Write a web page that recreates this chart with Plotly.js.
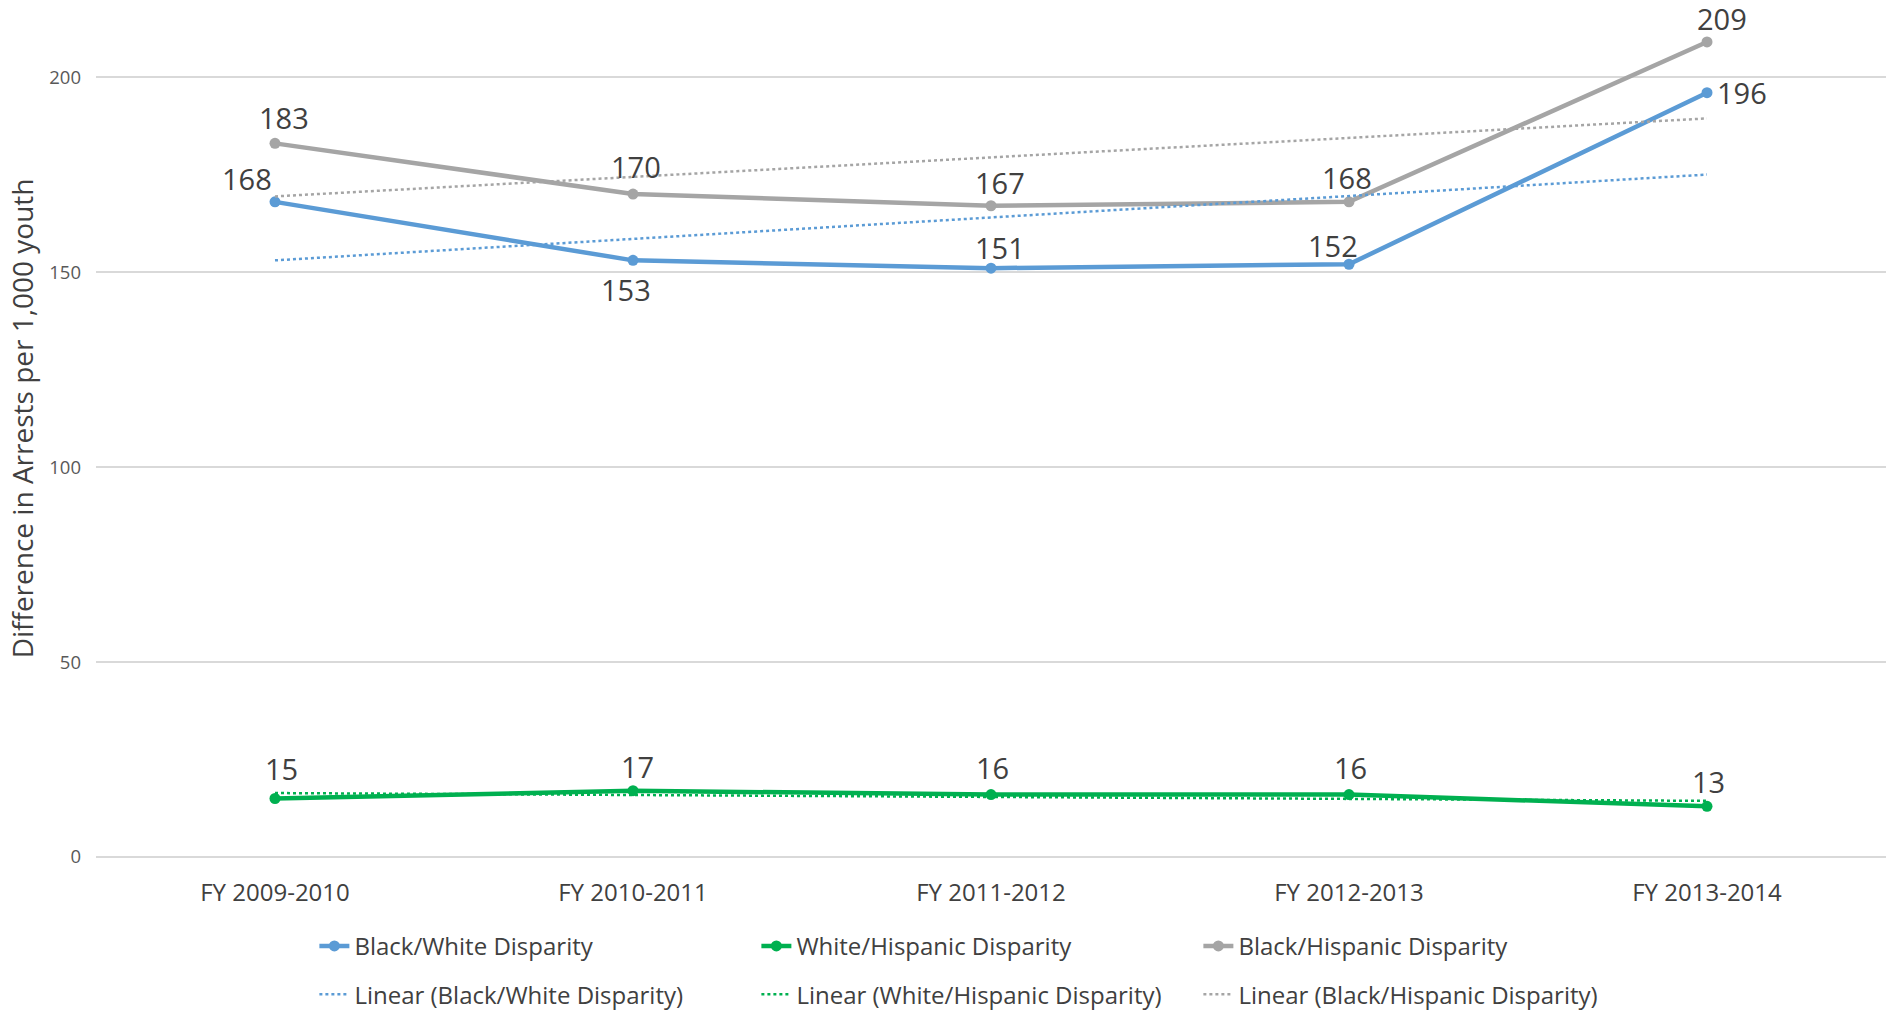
<!DOCTYPE html>
<html>
<head>
<meta charset="utf-8">
<script src="https://cdn.plot.ly/plotly-3.0.1.min.js"></script>
<style>
  html, body { margin: 0; padding: 0; background: #ffffff; }
  #chart { width: 1888px; height: 1015px; }
</style>
</head>
<body>
<div id="chart"></div>
<script>
// Fiscal years on the category axis
const years = ['FY 2009-2010', 'FY 2010-2011', 'FY 2011-2012', 'FY 2012-2013', 'FY 2013-2014'];

// Difference in arrests per 1,000 youth
const blackWhite    = [168, 153, 151, 152, 196];
const whiteHispanic = [15, 17, 16, 16, 13];
const blackHispanic = [183, 170, 167, 168, 209];

// Linear trend lines, first and last fiscal year
const trendYears         = ['FY 2009-2010', 'FY 2013-2014'];
const trendBlackWhite    = [153, 175];
const trendWhiteHispanic = [16.4, 14.4];
const trendBlackHispanic = [169.4, 189.4];

const yTickValues = [0, 50, 100, 150, 200];

const seriesNames = ['Black/White Disparity', 'White/Hispanic Disparity', 'Black/Hispanic Disparity'];
const yAxisTitle = 'Difference in Arrests per 1,000 youth';

// Styling
const FONT = 'Open Sans, Noto Sans, sans-serif';
const BLUE = '#5B9BD5', GREEN = '#00B050', GREY = '#A5A5A5';
const LABEL_COLOR = '#404040';

// Value-label offsets in pixels [dx, dy] (dy positive = upward)
const labelShift = {
  bw: [[-28, 23], [-7, -29], [9, 21], [-16, 19], [35, 0]],
  wh: [[6, 30], [4, 24], [1, 27], [1, 27], [1, 25]],
  bh: [[9, 26], [3, 28], [9, 23], [-2, 24], [15, 23]]
};

function mainTrace(name, values, color) {
  return {
    type: 'scatter', mode: 'lines+markers', name: name,
    x: years, y: values, legend: 'legend',
    line: { color: color, width: 4.5 },
    marker: { color: color, size: 11 },
    hoverinfo: 'x+y+name'
  };
}
function trendTrace(name, values, color) {
  return {
    type: 'scatter', mode: 'lines', name: 'Linear (' + name + ')',
    x: trendYears, y: values, legend: 'legend2',
    line: { color: color, width: 2.5, dash: 'dot' },
    hoverinfo: 'skip'
  };
}

const traces = [
  mainTrace(seriesNames[0], blackWhite, BLUE),
  mainTrace(seriesNames[1], whiteHispanic, GREEN),
  mainTrace(seriesNames[2], blackHispanic, GREY),
  trendTrace(seriesNames[0], trendBlackWhite, BLUE),
  trendTrace(seriesNames[1], trendWhiteHispanic, GREEN),
  trendTrace(seriesNames[2], trendBlackHispanic, GREY)
];

function valueLabels(values, shifts) {
  return values.map((v, i) => ({
    x: years[i], y: v, xref: 'x', yref: 'y',
    text: String(v), showarrow: false,
    xshift: shifts[i][0], yshift: shifts[i][1],
    font: { family: FONT, size: 29, color: LABEL_COLOR }
  }));
}

const annotations = [].concat(
  valueLabels(blackWhite, labelShift.bw),
  valueLabels(whiteHispanic, labelShift.wh),
  valueLabels(blackHispanic, labelShift.bh),
  [{
    // vertical axis title, sitting left of the tick labels
    text: yAxisTitle, textangle: -90, showarrow: false,
    xref: 'paper', yref: 'paper', x: -0.0413, y: 0.518,
    xanchor: 'center', yanchor: 'middle',
    font: { family: FONT, size: 28, color: LABEL_COLOR }
  }]
);

const legendBase = {
  orientation: 'h',
  xref: 'paper', yref: 'paper',
  xanchor: 'left', yanchor: 'middle',
  entrywidth: 397, entrywidthmode: 'pixels',
  font: { family: FONT, size: 24, color: LABEL_COLOR },
  bgcolor: 'rgba(0,0,0,0)', borderwidth: 0,
  itemclick: false, itemdoubleclick: false
};

const layout = {
  width: 1888, height: 1015,
  paper_bgcolor: '#ffffff', plot_bgcolor: '#ffffff',
  margin: { l: 96, r: 2, t: 10, b: 158, autoexpand: false },
  showlegend: true,
  font: { family: FONT, color: LABEL_COLOR },
  xaxis: {
    type: 'category', categoryorder: 'array', categoryarray: years,
    range: [-0.5, 4.5], automargin: false,
    showgrid: false, zeroline: false, showline: false, ticks: '',
    ticklabelstandoff: 19,
    tickfont: { family: FONT, size: 24, color: LABEL_COLOR }
  },
  yaxis: {
    range: [0, 217.2], automargin: false,
    tickmode: 'array', tickvals: yTickValues,
    showgrid: true, gridcolor: '#D9D9D9', gridwidth: 1.5,
    zeroline: true, zerolinecolor: '#D9D9D9', zerolinewidth: 1.5,
    showline: false, ticks: '',
    ticklabelstandoff: 14,
    tickfont: { family: FONT, size: 18.5, color: '#595959' }
  },
  legend: Object.assign({}, legendBase, { x: 0.122, y: -0.1055 }),
  legend2: Object.assign({}, legendBase, { x: 0.122, y: -0.1625 }),
  annotations: annotations
};

Plotly.newPlot('chart', traces, layout, { staticPlot: true, displayModeBar: false });
</script>
</body>
</html>
